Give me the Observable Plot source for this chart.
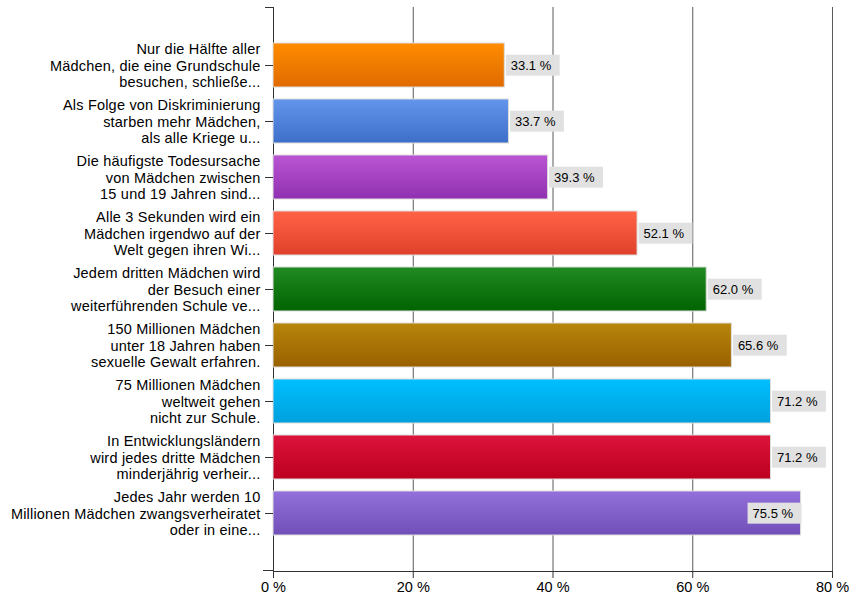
<!DOCTYPE html>
<html><head><meta charset="utf-8">
<script src="https://cdn.jsdelivr.net/npm/d3@7"></script>
<script src="https://cdn.jsdelivr.net/npm/@observablehq/plot@0.6"></script>
<style>body{margin:0;background:#fff;} g.ylab text{letter-spacing:0.2px;}</style>
</head><body><div id="chart"></div>
<script>
const categories = [
  "Nur die Hälfte aller\nMädchen, die eine Grundschule\nbesuchen, schließe...",
  "Als Folge von Diskriminierung\nstarben mehr Mädchen,\nals alle Kriege u...",
  "Die häufigste Todesursache\nvon Mädchen zwischen\n15 und 19 Jahren sind...",
  "Alle 3 Sekunden wird ein\nMädchen irgendwo auf der\nWelt gegen ihren Wi...",
  "Jedem dritten Mädchen wird\nder Besuch einer\nweiterführenden Schule ve...",
  "150 Millionen Mädchen\nunter 18 Jahren haben\nsexuelle Gewalt erfahren.",
  "75 Millionen Mädchen\nweltweit gehen\nnicht zur Schule.",
  "In Entwicklungsländern\nwird jedes dritte Mädchen\nminderjährig verheir...",
  "Jedes Jahr werden 10\nMillionen Mädchen zwangsverheiratet\noder in eine..."
];
const values = [33.1, 33.7, 39.3, 52.1, 62.0, 65.6, 71.2, 71.2, 75.5];
const xTicks = [0, 20, 40, 60, 80];

const topColors = ["#ff8c00", "#6495ed", "#ba55d3", "#ff6347", "#228b22", "#b8860b", "#00bfff", "#dc143c", "#9370db"];
const bottomColors = ["#e06a00", "#3e6fc8", "#9030b0", "#e0402a", "#006400", "#9a6000", "#00a0dc", "#bc0020", "#7050b8"];

const data = categories.map((c, i) => ({category: c, value: values[i], grad: `url(#grad${i})`}));
const fmt = d => d.value.toFixed(1) + " %";

const chartEl = Plot.plot({
  width: 849, height: 598,
  marginLeft: 273, marginRight: 17, marginTop: 7, marginBottom: 27,
  style: {fontFamily: "'Liberation Sans', Arial, sans-serif", fontSize: "14.5px", color: "#000", background: "#fff"},
  x: {domain: [0, 80], label: null},
  y: {domain: categories, paddingInner: 0.22, paddingOuter: 0.61, label: null},
  color: {type: "identity"},
  marks: [
    Plot.gridX({ticks: xTicks.filter(d => d > 0), stroke: "#5a5a5a", strokeOpacity: 1}),
    Plot.ruleX([0], {stroke: "#333"}),
    Plot.frame({anchor: "bottom", stroke: "#333"}),
    Plot.barX(data, {x: "value", y: "category", fill: "grad", stroke: "#dcdcdc", strokeWidth: 1}),
    Plot.text(data.filter(d => d.value <= 72), {x: "value", y: "category", text: fmt, textAnchor: "start", dx: 6, fontSize: 13, fill: "#000", className: "vlabel"}),
    Plot.text(data.filter(d => d.value > 72), {x: "value", y: "category", text: fmt, textAnchor: "end", dx: -8, fontSize: 13, fill: "#000", className: "vlabel"}),
    Plot.axisY({tickSize: 8, tickPadding: 5, lineHeight: 1.12, label: null, stroke: "#333", className: "ylab"}),
    Plot.axisX({ticks: xTicks, tickFormat: d => d + " %", tickSize: 7, tickPadding: 3, label: null, stroke: "#333"})
  ]
});

document.getElementById("chart").appendChild(chartEl);

const svg = d3.select(chartEl);
const defs = svg.insert("defs", ":first-child");
topColors.forEach((c, i) => {
  const g = defs.append("linearGradient").attr("id", "grad" + i)
    .attr("x1", 0).attr("y1", 0).attr("x2", 0).attr("y2", 1);
  g.append("stop").attr("offset", "0%").attr("stop-color", c);
  g.append("stop").attr("offset", "100%").attr("stop-color", bottomColors[i]);
});

// label background boxes
svg.selectAll("g.vlabel text").each(function() {
  const b = this.getBBox();
  const tr = this.getAttribute("transform");
  const cy = b.y + b.height / 2;
  d3.select(this.parentNode).insert("rect", () => this)
    .attr("transform", tr)
    .attr("x", b.x - 5).attr("y", cy - 10.5)
    .attr("width", b.width + 13).attr("height", 21)
    .attr("fill", "#e1e1e1");
});

// axis end caps
const xs = chartEl.scale("x");
const x0 = xs.apply(0);
const yTop = 7, yBottom = 598 - 27;
svg.append("line").attr("x1", x0 - 8).attr("x2", x0).attr("y1", yTop + 0.5).attr("y2", yTop + 0.5).attr("stroke", "#333");
svg.append("line").attr("x1", x0 - 10).attr("x2", x0).attr("y1", yBottom - 0.5).attr("y2", yBottom - 0.5).attr("stroke", "#333");
</script>
</body></html>
